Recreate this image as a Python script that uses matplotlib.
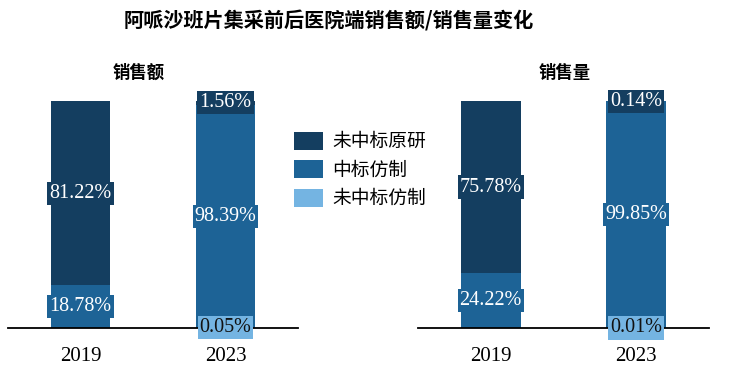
import matplotlib
matplotlib.use("Agg")
import matplotlib.pyplot as plt
from matplotlib.patches import Patch

plt.rcParams['font.family'] = ['Liberation Serif', 'Noto Sans CJK SC']

title = "阿哌沙班片集采前后医院端销售额/销售量变化"
panel_titles = ["销售额", "销售量"]
years = ["2019", "2023"]
series_names = ["未中标原研", "中标仿制", "未中标仿制"]
colors = ["#143E60", "#1D6396", "#74B4E2"]
text_colors = ["white", "white", "#111111"]

# stacked order bottom -> top: 未中标仿制, 中标仿制, 未中标原研
sales_orig = [81.22, 1.56]
sales_win = [18.78, 98.39]
sales_lose = [0.00, 0.05]
volume_orig = [75.78, 0.14]
volume_win = [24.22, 99.85]
volume_lose = [0.00, 0.01]

panels = [
    (sales_orig, sales_win, sales_lose),
    (volume_orig, volume_win, volume_lose),
]

W, H = 731, 373
fig = plt.figure(figsize=(W / 100, H / 100), dpi=100)

axes_px = [(8, 290), (418, 291)]
y_axis_px = 328
y_top_px = 101

cjk = ['Noto Sans CJK SC', 'DejaVu Sans']

for (left, width), (orig, win, lose), ptitle in zip(axes_px, panels, panel_titles):
    ax = fig.add_axes([left / W, (H - y_axis_px) / H, width / W, (y_axis_px - y_top_px) / H])
    x = [0, 1]
    bw = 0.41
    bottoms = [0.0, 0.0]
    for vals, col, tcol in [(lose, colors[2], text_colors[2]),
                            (win, colors[1], text_colors[1]),
                            (orig, colors[0], text_colors[0])]:
        ax.bar(x, vals, bw, bottom=bottoms, color=col, edgecolor='none', zorder=2)
        for i, v in enumerate(vals):
            if v > 0:
                yc = bottoms[i] + v / 2
                ax.text(x[i], yc, f"{v:.2f}%", ha='center', va='center',
                        fontsize=14.5, color=tcol, zorder=5, clip_on=False,
                        bbox=dict(boxstyle='square,pad=0.1', fc=col, ec='none'))
        bottoms = [b + v for b, v in zip(bottoms, vals)]
    ax.set_xlim(-0.5, 1.5)
    ax.set_ylim(0, 100)
    for s in ['top', 'right', 'left']:
        ax.spines[s].set_visible(False)
    ax.spines['bottom'].set_linewidth(1.3)
    ax.spines['bottom'].set_color('black')
    ax.spines['bottom'].set_zorder(3)
    ax.set_yticks([])
    ax.set_xticks(x)
    ax.set_xticklabels(years, fontsize=15)
    ax.tick_params(axis='x', length=0, pad=14)
    ax.patch.set_alpha(0)

fig.text(139 / W, 1 - 73 / H, panel_titles[0], ha='center', va='center',
         fontsize=12.5, fontweight='bold', family=cjk)
fig.text(565 / W, 1 - 73 / H, panel_titles[1], ha='center', va='center',
         fontsize=12.5, fontweight='bold', family=cjk)
fig.text(329 / W, 1 - 21 / H, title, ha='center', va='center',
         fontsize=14.5, fontweight='bold', family=cjk)

handles = [Patch(facecolor=c, edgecolor='none') for c in colors]
leg = fig.legend(handles, series_names, loc='upper left',
                 bbox_to_anchor=(294 / W, 1 - 131 / H), frameon=False,
                 borderpad=0, borderaxespad=0, handlelength=1.55, handleheight=1.1,
                 labelspacing=0.4, handletextpad=0.5,
                 prop={'family': cjk, 'size': 13.5})

fig.savefig("out.png", dpi=100)
